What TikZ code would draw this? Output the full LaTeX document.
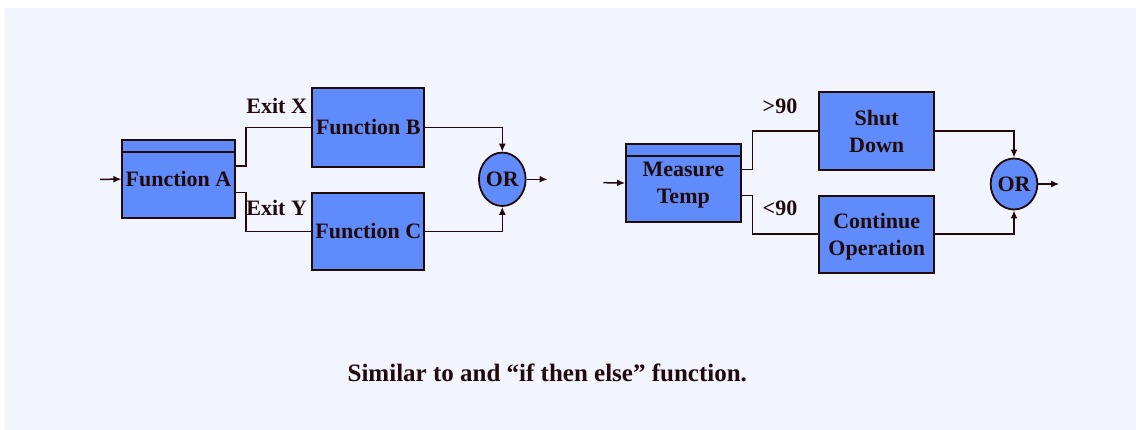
\documentclass[tikz,border=0pt]{standalone}
\usepackage{fontspec}
\setmainfont{Liberation Serif}
\usetikzlibrary{arrows.meta,shapes.geometric}
\definecolor{panel}{HTML}{F2F5FE}
\definecolor{boxfill}{HTML}{608CFB}
\definecolor{ink}{HTML}{220A0A}
\newcommand{\nodepth}[1]{\raisebox{0pt}[\height][0pt]{#1}}
\begin{document}
\begin{tikzpicture}[x=1pt,y=-1pt,
  every node/.style={text=ink,font=\bfseries\fontsize{22}{26.5}\selectfont},
  fbox/.style={draw=ink,line width=1.8pt,fill=boxfill,rectangle,inner sep=0pt,align=center},
  orbox/.style={draw=ink,line width=1.8pt,fill=boxfill,ellipse,inner sep=0pt},
  conn/.style={draw=ink,line width=1.5pt},
  arr/.style={conn,-{Latex[length=8pt,width=7pt]}},
  lbl/.style={anchor=base,inner sep=0pt}]
\useasboundingbox (0,0) rectangle (1136,430);
\fill[panel] (5,8) rectangle (1136,430);
% left diagram
\node[fbox,minimum width=112.4pt,minimum height=77.7pt] (fa) at (178.5,179.2) {Function A};
\draw[conn] ([yshift=-12.4pt]fa.north west) -- ([yshift=-12.4pt]fa.north east);
\node[fbox,minimum width=112pt,minimum height=78.4pt] (fb) at (368.3,127.5) {Function B};
\node[fbox,minimum width=112pt,minimum height=77.3pt] (fc) at (368.3,231.3) {Function C};
\node[orbox,minimum width=45.6pt,minimum height=53.4pt] (or1) at (502.3,179.3) {OR};
\coordinate (in1) at (100,179.3);
\draw[arr] (in1) -- (fa.west);
\draw[conn] ([yshift=13.2pt]fa.east) -- ++(10.5,0) |- (fb.west);
\draw[conn] ([yshift=-13.5pt]fa.east) -- ++(10.5,0) |- (fc.west);
\draw[arr] (fb.east) -| (or1.north);
\draw[arr] (fc.east) -| (or1.south);
\draw[arr] (or1.east) -- ++(21,0) coordinate (out1);
\node[lbl] (ex) at (276.7,113.3) {Exit X};
\node[lbl] (ey) at (276.7,216) {Exit Y};
% right diagram
\node[fbox,minimum width=114.7pt,minimum height=77.4pt] (mt) at (683.3,183) {Measure\\\nodepth{Temp}};
\draw[conn] ([yshift=-12.4pt]mt.north west) -- ([yshift=-12.4pt]mt.north east);
\node[fbox,minimum width=114.7pt,minimum height=77.7pt] (sd) at (876.7,131.2) {Shut\\\nodepth{Down}};
\node[fbox,minimum width=114.7pt,minimum height=77pt] (co) at (876.7,234.2) {Continue\\\nodepth{Operation}};
\node[orbox,minimum width=45.4pt,minimum height=51pt] (or2) at (1014,184) {OR};
\coordinate (in2) at (603.3,182.7);
\draw[arr] (in2) -- (mt.west);
\draw[conn] ([yshift=13.7pt]mt.east) -- ++(11,0) |- (sd.west);
\draw[conn] ([yshift=-12.7pt]mt.east) -- ++(11,0) |- (co.west);
\draw[arr] (sd.east) -| (or2.north);
\draw[arr] (co.east) -| (or2.south);
\draw[arr] (or2.east) -- ++(21,0) coordinate (out2);
\node[lbl] (gt) at (780,113.3) {>90};
\node[lbl] (lt) at (780,215.7) {<90};
% caption
\node[lbl,font=\bfseries\fontsize{25}{30}\selectfont] (cap) at (547.3,381.7) {Similar to and “if then else” function.};
\end{tikzpicture}
\end{document}
